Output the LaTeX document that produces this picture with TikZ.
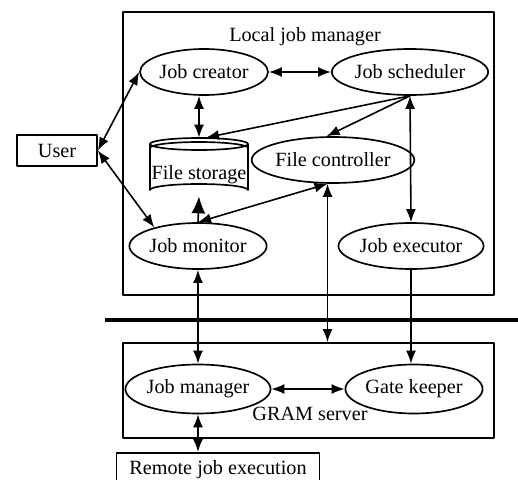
\documentclass[tikz,border=0pt]{standalone}
\usepackage{fontspec}
\setmainfont{Liberation Serif}
\usetikzlibrary{shapes.geometric,arrows.meta}

\tikzset{
  jobnode/.style={draw,ellipse,line width=0.95pt,inner sep=0pt,minimum width=2.56cm,minimum height=0.92cm},
  frame/.style={draw,line width=1.05pt,inner sep=0pt},
  plainbox/.style={draw,line width=0.95pt,inner sep=0pt},
  link/.style={line width=0.9pt},
  twoway/.style={link,{Latex[length=2.6mm,width=2mm]}-{Latex[length=2.6mm,width=2mm]}},
  oneway/.style={link,-{Latex[length=2.6mm,width=2mm]}},
}

\begin{document}
\begin{tikzpicture}[x=0.02cm,y=-0.02cm,line cap=round,line join=round,
  font=\fontsize{11.5}{13.8}\selectfont]
  \useasboundingbox (0,0) rectangle (518,480);
  % frames
  \node[frame,minimum width=7.42cm,minimum height=5.66cm] (local) at (308.5,153.5) {};
  \node[frame,minimum width=7.42cm,minimum height=1.9cm] (gram) at (308.5,390.5) {};
  \node (localtitle) at (305,37) {Local job manager};
  \node (gramtitle) at (310,414) {GRAM server};
  \draw[line width=2.5pt,line cap=butt] (105,320) -- (518,320);
  % local side
  \node[plainbox,minimum width=1.6cm,minimum height=0.62cm] (user) at (57,150.5) {User};
  \node[jobnode] (creator) at (204,72) {Job creator};
  \node[jobnode] (scheduler) at (410,72) {Job scheduler};
  \node[jobnode,minimum width=2.44cm] (controller) at (333,160) {File controller};
  \node[jobnode] (monitor) at (198,246) {Job monitor};
  \node[jobnode,minimum width=2.54cm] (executor) at (411,246) {Job executor};
  \node[minimum width=1.96cm,minimum height=1.16cm,inner sep=0pt] (storage) at (199,167) {};
  \draw[line width=0.95pt] (150,144) arc[start angle=180,end angle=-180,x radius=49,y radius=6];
  \draw[line width=0.95pt] (150,148) arc[start angle=180,end angle=360,x radius=49,y radius=6];
  \draw[line width=0.95pt] (150,144) -- (150,190) arc[start angle=180,end angle=360,x radius=49,y radius=6] -- (248,144);
  \node (storagelbl) at (199,175) {File storage};
  % grid side
  \node[jobnode,minimum width=2.6cm,minimum height=0.98cm] (jobmgr) at (198,389) {Job manager};
  \node[jobnode,minimum width=2.58cm,minimum height=0.98cm] (gate) at (414,389) {Gate keeper};
  \node[plainbox,minimum width=4.06cm,minimum height=0.68cm,anchor=north] (remote) at (218,452) {Remote job execution};
  % connectors
  \coordinate (ctrlout) at (controller.257);
  \draw[twoway] (user.east) -- (creator.west);
  \draw[twoway] (user.east) -- (monitor.157);
  \draw[twoway] (creator.east) -- (scheduler.west);
  \draw[twoway] (creator.south -| storage.north) -- (storage.north);
  \draw[oneway] (scheduler.south) -- ([xshift=4pt]storage.north);
  \draw[oneway] (scheduler.south) -- (controller.105);
  \draw[twoway] (scheduler.south) -- (executor.north);
  \draw[link,-{Latex[length=3.4mm,width=2.8mm]}] (monitor.north) -- (storage.south);
  \draw[twoway] (ctrlout) -- (monitor.north);
  \draw[twoway] (ctrlout) -- (ctrlout |- gram.north);
  \draw[twoway] (monitor.south) -- (monitor.south |- jobmgr.north);
  \draw[oneway] (executor.south) -- (executor.south |- gate.north);
  \draw[twoway] (jobmgr.east) -- (gate.west);
  \draw[twoway] (jobmgr.south) -- (jobmgr.south |- remote.north);
\end{tikzpicture}
\end{document}
